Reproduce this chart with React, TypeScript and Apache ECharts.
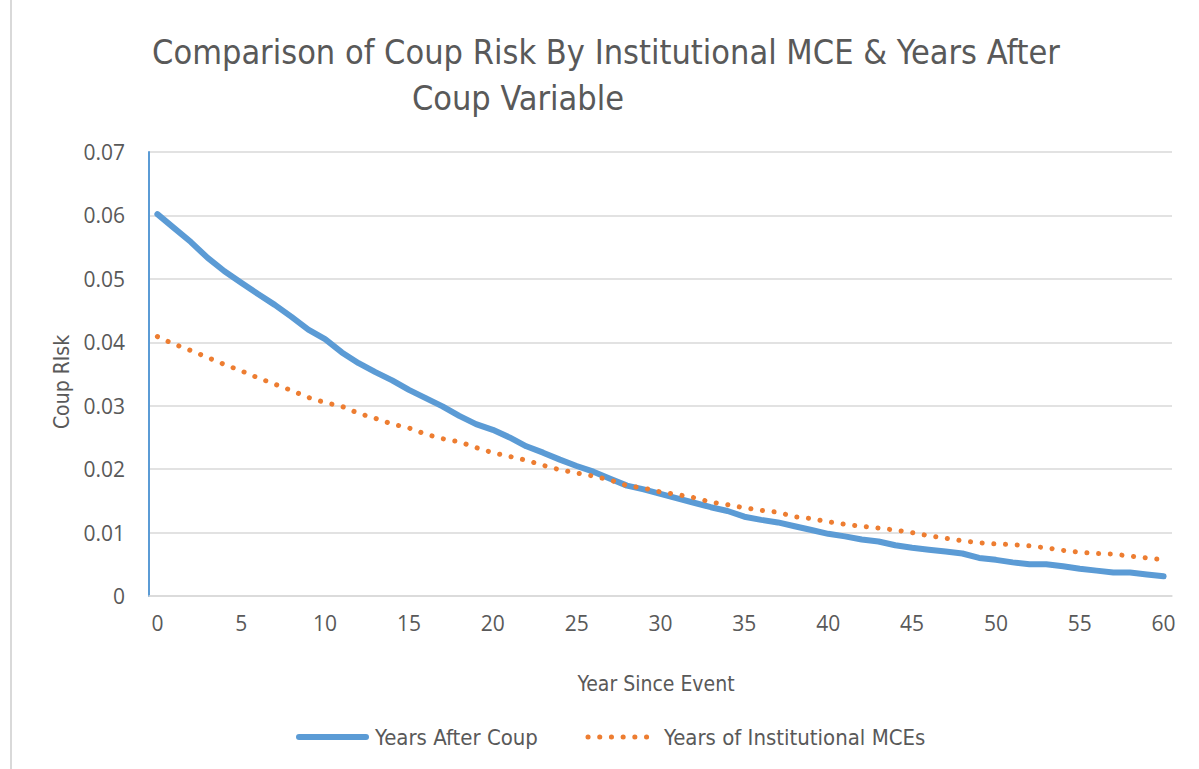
import React, { useEffect, useRef } from "react";
import * as echarts from "echarts";

const years: string[] = [
  "0","1","2","3","4","5","6","7","8","9","10",
  "11","12","13","14","15","16","17","18","19","20",
  "21","22","23","24","25","26","27","28","29","30",
  "31","32","33","34","35","36","37","38","39","40",
  "41","42","43","44","45","46","47","48","49","50",
  "51","52","53","54","55","56","57","58","59","60",
];

const yearsAfterCoup: number[] = [
  0.0602, 0.0580, 0.0558, 0.0533, 0.0512, 0.0494, 0.0476, 0.0459, 0.0440, 0.0420, 0.0405,
  0.0384, 0.0367, 0.0353, 0.0340, 0.0325, 0.0312, 0.0299, 0.0284, 0.0271, 0.0262,
  0.0250, 0.0236, 0.0226, 0.0215, 0.0205, 0.0196, 0.0185, 0.0174, 0.0168, 0.0161,
  0.0154, 0.0147, 0.0140, 0.0134, 0.0125, 0.0120, 0.0116, 0.0110, 0.0104, 0.0098,
  0.0094, 0.0089, 0.0086, 0.0080, 0.0076, 0.0073, 0.0070, 0.0067, 0.0060, 0.0057,
  0.0053, 0.0050, 0.0050, 0.0047, 0.0043, 0.0040, 0.0037, 0.0037, 0.0034, 0.0031,
];

const yearsInstitutionalMCEs: number[] = [
  0.0409, 0.0397, 0.0387, 0.0376, 0.0365, 0.0355, 0.0344, 0.0334, 0.0324, 0.0313, 0.0305,
  0.0299, 0.0288, 0.0280, 0.0271, 0.0265, 0.0255, 0.0248, 0.0243, 0.0234, 0.0226,
  0.0220, 0.0214, 0.0206, 0.0199, 0.0194, 0.0189, 0.0183, 0.0174, 0.0170, 0.0164,
  0.0160, 0.0155, 0.0148, 0.0144, 0.0139, 0.0135, 0.0132, 0.0125, 0.0122, 0.0117,
  0.0113, 0.0110, 0.0107, 0.0104, 0.0100, 0.0095, 0.0091, 0.0087, 0.0084, 0.0082,
  0.0081, 0.0079, 0.0076, 0.0072, 0.0069, 0.0067, 0.0066, 0.0063, 0.0060, 0.0057,
];

const seriesNames = ["Years After Coup", "Years of Institutional MCEs"];
const titleLine1 = "Comparison of Coup Risk By Institutional MCE & Years After";
const titleLine2 = "Coup Variable";
const xAxisName = "Year Since Event";
const yAxisName = "Coup RIsk";

const FONT = "'Liberation Sans Narrow', 'DejaVu Sans Condensed', 'Open Sans', sans-serif";
const FONT2 = "'Open Sans', 'Noto Sans', sans-serif";
const TEXT = "#595959";
const BLUE = "#5b9bd5";
const ORANGE = "#ed7d31";
const GRID = "#d9d9d9";
const DOTS: number[] = [0.1, 11.6];

export default function App() {
  const ref = useRef<HTMLDivElement>(null);
  useEffect(() => {
    if (!ref.current) return;
    const chart = echarts.init(ref.current, undefined, { renderer: "svg" });
    chart.setOption({
      animation: false,
      backgroundColor: "#ffffff",
      grid: { left: 149, top: 152, width: 1023, height: 444 },
      legend: { show: false, data: seriesNames },
      graphic: [
        { type: "line", shape: { x1: 11, y1: 0, x2: 11, y2: 769 }, style: { stroke: GRID, lineWidth: 2 } },
        {
          type: "text", x: 606, y: 52,
          style: { text: titleLine1, fill: TEXT, font: `34px ${FONT}`, textAlign: "center", textVerticalAlign: "middle" },
        },
        {
          type: "text", x: 518, y: 98,
          style: { text: titleLine2, fill: TEXT, font: `34px ${FONT}`, textAlign: "center", textVerticalAlign: "middle" },
        },
        {
          type: "text", x: 656, y: 684,
          style: { text: xAxisName, fill: TEXT, font: `21px ${FONT}`, textAlign: "center", textVerticalAlign: "middle" },
        },
        {
          type: "text", x: 62, y: 382, rotation: Math.PI / 2,
          style: { text: yAxisName, fill: TEXT, font: `21px ${FONT}`, textAlign: "center", textVerticalAlign: "middle" },
        },
        // custom legend
        {
          type: "line", shape: { x1: 299, y1: 737, x2: 366, y2: 737 },
          style: { stroke: BLUE, lineWidth: 6, lineCap: "round" },
        },
        {
          type: "text", x: 375, y: 737,
          style: { text: seriesNames[0], fill: TEXT, font: `22px ${FONT}`, textAlign: "left", textVerticalAlign: "middle" },
        },
        {
          type: "line", shape: { x1: 588, y1: 737, x2: 650, y2: 737 },
          style: { stroke: ORANGE, lineWidth: 5, lineCap: "round", lineDash: DOTS },
        },
        {
          type: "text", x: 664, y: 737,
          style: { text: seriesNames[1], fill: TEXT, font: `22px ${FONT}`, textAlign: "left", textVerticalAlign: "middle" },
        },
      ],
      xAxis: {
        type: "category",
        data: years,
        boundaryGap: true,
        axisLine: { show: true, lineStyle: { color: GRID, width: 1.5 } },
        axisTick: { show: false },
        axisLabel: { interval: 4, color: TEXT, fontSize: 21, fontFamily: FONT2, margin: 16 },
        splitLine: { show: false },
      },
      yAxis: {
        type: "value",
        min: 0,
        max: 0.07,
        interval: 0.01,
        axisLine: { show: true, lineStyle: { color: BLUE, width: 2 } },
        axisTick: { show: false },
        axisLabel: {
          color: TEXT, fontSize: 21, fontFamily: FONT2, margin: 24,
          formatter: (v: number) => (v === 0 ? "0" : v.toFixed(2)),
        },
        splitLine: { show: true, lineStyle: { color: GRID, width: 1.5 } },
      },
      series: [
        {
          name: seriesNames[0],
          type: "line",
          data: yearsAfterCoup,
          symbol: "none",
          itemStyle: { color: BLUE },
          lineStyle: { color: BLUE, width: 6, cap: "round", join: "round" },
        },
        {
          name: seriesNames[1],
          type: "line",
          data: yearsInstitutionalMCEs,
          symbol: "none",
          itemStyle: { color: ORANGE },
          lineStyle: { color: ORANGE, width: 5, type: DOTS, cap: "round", join: "round" },
        },
      ],
    });
    return () => chart.dispose();
  }, []);
  return (
    <div
      ref={ref}
      style={{ position: "fixed", left: 0, top: 0, width: "1199px", height: "769px" }}
    />
  );
}
